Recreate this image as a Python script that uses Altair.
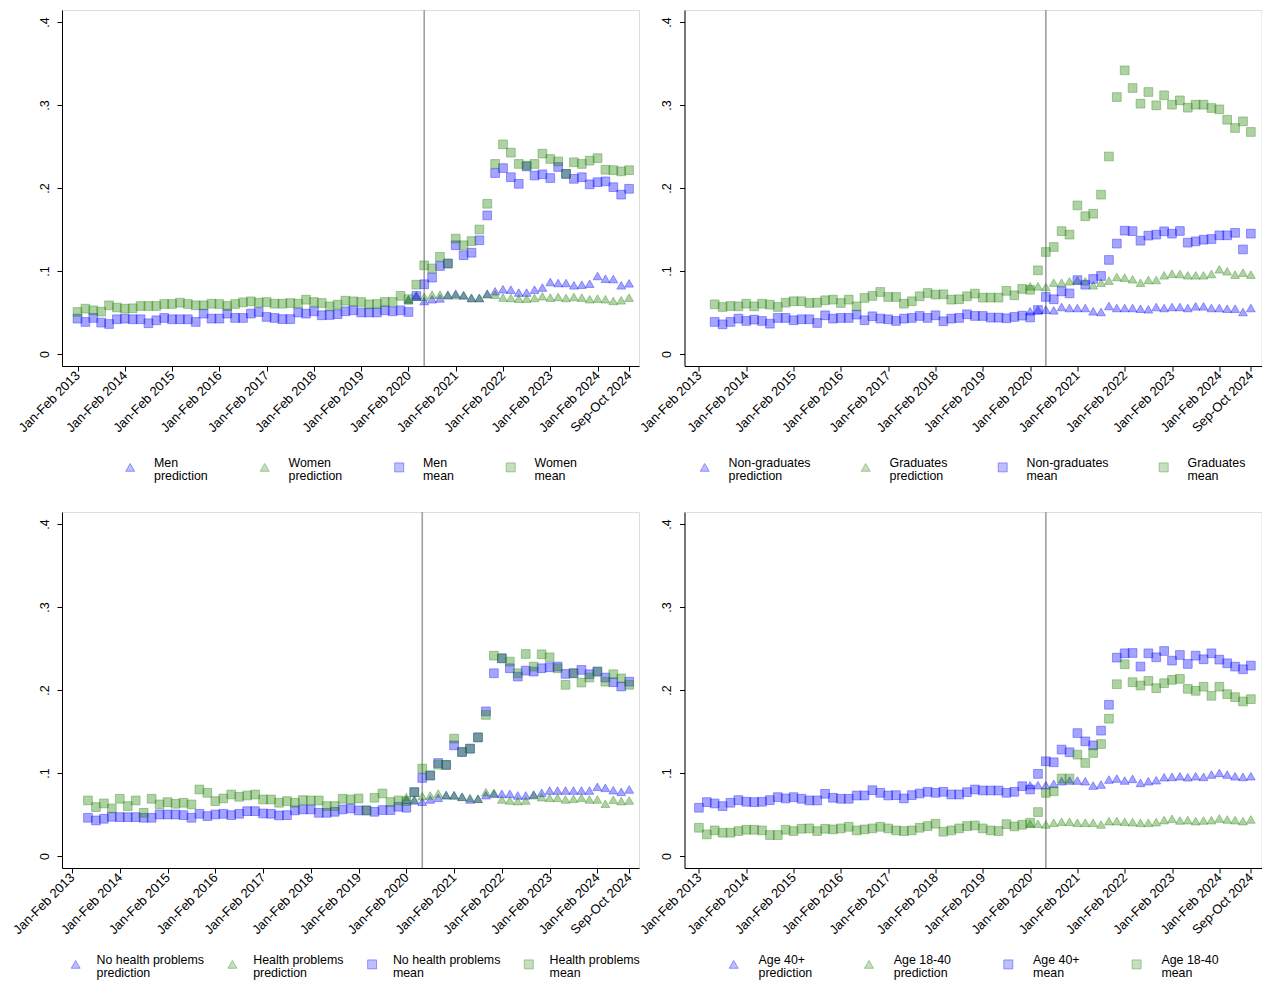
import altair as alt
import pandas as pd

# ---------------- shared axis data ----------------
tick_idx = [0, 6, 12, 18, 24, 30, 36, 42, 48, 54, 60, 66, 70]
tick_labels = ["Jan-Feb 2013", "Jan-Feb 2014", "Jan-Feb 2015", "Jan-Feb 2016",
               "Jan-Feb 2017", "Jan-Feb 2018", "Jan-Feb 2019", "Jan-Feb 2020",
               "Jan-Feb 2021", "Jan-Feb 2022", "Jan-Feb 2023", "Jan-Feb 2024",
               "Sep-Oct 2024"]
y_ticks = [0, 0.1, 0.2, 0.3, 0.4]
y_tick_labels = ["0", ".1", ".2", ".3", ".4"]
policy_idx = 44          # vertical reference line (May-Jun 2020)
pred_start = 42          # predictions start Jan-Feb 2020

# ---------------- top-left: gender ----------------
men_pred = [.066, .0707, .0638, .066, .067, .0707, .0727, .0707, .0675, .0675, .0727, .0755,
            .078, .0775, .074, .074, .0775, .080, .0867, .0855, .0855, .0827, .0835, .0847,
            .094, .0907, .0903, .0827, .0851]
women_pred = [.0646, .069, .069, .0715, .0715, .0715, .0707, .0707, .0675, .0675, .0719, .0715,
              .068, .0675, .0667, .0667, .0675, .0695, .0679, .0687, .0675, .0687, .0679, .066,
              .0667, .066, .0639, .0647, .0679]
men_mean = [.0426, .0386, .0434, .0378, .0361, .0418, .0426, .0418, .0418, .037, .0406, .0434,
            .0418, .0418, .0418, .0386, .0486, .0426, .0426, .0486, .0434, .0434, .0486, .0506,
            .0446, .0434, .042, .042, .050, .0486, .0514, .0466, .047, .048, .0514, .0526,
            .050, .050, .050, .0526, .0514, .0526, .0506, .0699, .084, .092, .106, .109,
            .131, .119, .122, .137, .167, .218, .224, .213, .205, .226, .215, .2165,
            .212, .2253, .217, .211, .213, .2044, .207, .208, .201, .192, .199]
women_mean = [.0506, .0546, .0526, .051, .0586, .056, .0546, .055, .0578, .0578, .0578, .0602,
              .0602, .0618, .0602, .0586, .0586, .0606, .0602, .0578, .0602, .0622, .0634, .0618,
              .0626, .0606, .0606, .0614, .0606, .0654, .0626, .0614, .0574, .0594, .0642, .0634,
              .0626, .0598, .0602, .0627, .0627, .070, .066, .0835, .1068, .103, .117, .109,
              .139, .131, .136, .150, .181, .229, .2526, .2426, .229, .227, .229, .2414,
              .235, .232, .217, .231, .229, .233, .236, .222, .2215, .220, .2215]

# ---------------- top-right: education ----------------
nongrad_pred = [.0514, .0534, .0534, .0526, .0566, .0554, .0554, .0554, .0514, .0506, .0578, .0554,
                .0554, .0554, .0546, .0538, .0566, .0554, .0566, .0566, .0554, .0574, .0574, .0554,
                .0554, .0546, .0546, .0506, .0554]
grad_pred = [.0815, .0815, .0807, .0859, .0859, .0876, .0888, .0876, .0827, .0859, .0884, .0928,
             .092, .090, .0859, .0892, .0892, .0948, .0968, .0964, .0948, .0948, .0948, .0964,
             .102, .0996, .0956, .098, .0956]
nongrad_mean = [.0386, .0357, .0386, .0426, .0398, .0414, .0398, .0365, .0434, .0434, .0406, .0418,
                .0418, .0373, .0466, .0426, .0434, .0434, .0474, .0406, .0454, .0426, .0418, .0398,
                .0426, .0434, .0458, .0434, .0466, .0394, .0426, .0434, .0478, .0458, .0458, .0438,
                .0438, .043, .0446, .0462, .044, .053, .0687, .0659, .0755, .073, .089, .0835,
                .0904, .094, .1133, .133, .1486, .148, .1365, .1426, .1438, .1478, .145, .1482,
                .1341, .1357, .1377, .1385, .143, .143, .146, .126, .145]
grad_mean = [.0598, .0566, .0578, .0574, .0606, .0574, .0606, .0594, .0566, .0618, .0635, .0635,
             .0614, .0618, .0647, .0655, .0614, .0655, .0574, .0675, .0699, .0747, .0687, .0687,
             .0606, .0635, .0695, .0735, .0715, .0719, .0655, .0659, .0695, .0727, .0679, .0679,
             .0679, .0761, .0707, .0784, .0773, .1008, .1229, .1289, .148, .1438, .179, .166,
             .169, .192, .238, .3096, .3418, .3205, .3016, .3157, .2996, .3117, .3004, .3056,
             .2968, .3004, .3004, .2964, .2948, .2823, .2723, .2803, .2675]

# ---------------- bottom-left: health ----------------
nohealth_pred = [.0681, .0669, .0653, .0681, .0701, .0733, .0733, .0713, .0681, .0689, .0733, .0749,
                 .0749, .0749, .0729, .0729, .0741, .0761, .0789, .0789, .0789, .0789, .0789, .0789,
                 .0833, .0821, .0793, .0773, .0801]
health_pred = [.0709, .0681, .0721, .0729, .0753, .0733, .0729, .0713, .0701, .0689, .0769, .0761,
               .0681, .0669, .0661, .0669, .0733, .0709, .0701, .0701, .0681, .0689, .0701, .0681,
               .0681, .0629, .0677, .0661, .0669]
nohealth_mean = [.046, .0428, .0448, .0472, .0468, .0468, .0468, .046, .046, .050, .050, .050,
                 .0492, .046, .0508, .048, .050, .0508, .0492, .0508, .054, .054, .0512, .0508,
                 .0488, .0492, .0549, .0561, .0561, .052, .052, .0532, .0561, .0573, .0549, .0549,
                 .0532, .0553, .0553, .0593, .0581, .0769, .094, .097, .112, .1097, .1333, .1253,
                 .1293, .1429, .1742, .2202, .2382, .2262, .2162, .2234, .2222, .2262, .2274, .2282,
                 .2194, .2202, .2242, .219, .2222, .215, .2094, .2042, .210]
health_mean = [.0669, .0589, .0633, .0573, .0689, .0601, .0669, .052, .0689, .0621, .0649, .0629,
               .0641, .0621, .0801, .0761, .0661, .0693, .0741, .0713, .0729, .0741, .0681, .0681,
               .0641, .0661, .0641, .0673, .0669, .0669, .0601, .0601, .0689, .0681, .0693, .0549,
               .0701, .0753, .0649, .0669, .066, .0769, .1053, .097, .110, .1097, .1414, .1253,
               .1293, .1429, .170, .2414, .2382, .2342, .2202, .2434, .2282, .243, .2394, .2262,
               .2062, .2202, .209, .215, .2222, .210, .219, .214, .2062]

# ---------------- bottom-right: age ----------------
age40_pred = [.0853, .0853, .0853, .0869, .0901, .0909, .0909, .0901, .0849, .0861, .0921, .0933,
              .0909, .0929, .0881, .0901, .0913, .0949, .0953, .0961, .0949, .0961, .0953, .0981,
              .1001, .0981, .0961, .0953, .0961]
age18_pred = [.0388, .0388, .038, .040, .0412, .0412, .040, .040, .040, .038, .042, .042,
              .0412, .0408, .040, .040, .0408, .0432, .0448, .0428, .0432, .042, .0428, .0432,
              .0452, .044, .0432, .042, .044]
age40_mean = [.0581, .0649, .0633, .0601, .0641, .0673, .0653, .0649, .0653, .0673, .0709, .0693,
              .0709, .0689, .0669, .0669, .0749, .0701, .0689, .0689, .0729, .0729, .0793, .0761,
              .0729, .0733, .0693, .0733, .0753, .0773, .0761, .0773, .0741, .0741, .0769, .0801,
              .0789, .0789, .0789, .0761, .0773, .0841, .0801, .0989, .1141, .1129, .1282, .125,
              .1481, .1381, .1333, .151, .1822, .239, .2442, .2446, .2282, .2442, .2394, .247,
              .2354, .2422, .2314, .2414, .237, .2442, .2366, .2322, .2282, .225, .2294]
age18_mean = [.034, .026, .0308, .028, .028, .030, .0316, .0316, .0308, .0252, .0252, .0316,
              .030, .0328, .0332, .030, .0328, .032, .0332, .0352, .0308, .032, .0332, .0352,
              .0332, .0308, .030, .0308, .034, .036, .0388, .0292, .0308, .0332, .036, .0368,
              .0332, .0308, .030, .0384, .0356, .0376, .040, .0529, .076, .078, .0933, .0933,
              .1221, .1121, .1241, .1349, .1654, .207, .231, .2094, .2054, .211, .2022, .2082,
              .2122, .2134, .2014, .199, .204, .193, .204, .195, .1914, .1862, .189]

# ---------------- styling ----------------
FONT = "Liberation Sans"
BLUE_FILL, BLUE_STROKE = "rgba(0,0,255,0.5)", "rgba(0,0,255,0.55)"
GREEN_FILL, GREEN_STROKE = "rgba(30,128,0,0.5)", "rgba(30,128,0,0.55)"
W, H = 577, 356

label_expr = " : ".join(
    f"datum.value == {v} ? '{t}'" for v, t in zip(tick_idx, tick_labels)) + " : ''"
y_label_expr = " : ".join(
    f"datum.value == {v} ? '{t}'" for v, t in zip(y_ticks, y_tick_labels)) + " : ''"


def make_df(series):
    rows = []
    for name, start, vals in series:
        for k, v in enumerate(vals):
            rows.append({"idx": start + k, "value": v, "series": name})
    return pd.DataFrame(rows)


def panel(series, x_domain, legend_x, legend_y, col_pad, label_offset):
    df = make_df(series)
    names = [s[0] for s in series]
    fills = [BLUE_FILL, GREEN_FILL, BLUE_FILL, GREEN_FILL]
    strokes = [BLUE_STROKE, GREEN_STROKE, BLUE_STROKE, GREEN_STROKE]
    shapes = ["triangle-up", "triangle-up", "square", "square"]
    leg = alt.Legend(orient="none", legendX=legend_x, legendY=legend_y,
                     direction="horizontal", columns=4, columnPadding=col_pad,
                     title=None, padding=0, labelExpr="split(datum.label, '|')",
                     labelFont=FONT, labelFontSize=12.4, labelColor="#000",
                     labelOffset=label_offset, symbolSize=80, symbolStrokeWidth=1,
                     labelLimit=300, labelBaseline="alphabetic")
    xs = alt.Scale(domain=x_domain, nice=False, zero=False)
    ys = alt.Scale(domain=[-0.0145, 0.4145], nice=False, zero=False)
    x_axis = alt.Axis(values=tick_idx, labelExpr=label_expr, labelAngle=315,
                      labelAlign="right", labelBaseline="middle", labelPadding=2,
                      title=None, grid=False, tickSize=5, labelFont=FONT,
                      labelFontSize=13, labelColor="#000", tickColor="#000",
                      domainColor="#000", labelOverlap=False, labelBound=False,
                      labelFlush=False)
    y_axis = alt.Axis(values=y_ticks, labelExpr=y_label_expr, labelAngle=270,
                      labelAlign="center", labelBaseline="bottom", labelPadding=6,
                      title=None, grid=False, tickSize=5, labelFont=FONT,
                      labelFontSize=12.5, labelColor="#000", tickColor="#000",
                      domainColor="#000", labelOverlap=False, labelFlush=False)
    rule = alt.Chart(pd.DataFrame({"idx": [policy_idx]})).mark_rule(
        color="#a0a0a0", strokeWidth=1.6).encode(
        x=alt.X("idx:Q", scale=xs, axis=x_axis))
    pts = alt.Chart(df).mark_point(filled=True, strokeWidth=1, size=76).encode(
        x=alt.X("idx:Q", scale=xs, axis=x_axis),
        y=alt.Y("value:Q", scale=ys, axis=y_axis),
        fill=alt.Fill("series:N", scale=alt.Scale(domain=names, range=fills), legend=leg),
        stroke=alt.Stroke("series:N", scale=alt.Scale(domain=names, range=strokes), legend=leg),
        shape=alt.Shape("series:N", scale=alt.Scale(domain=names, range=shapes), legend=leg),
    )
    return alt.layer(rule, pts).properties(width=W, height=H)


tl = panel([("Men|prediction", pred_start, men_pred),
            ("Women|prediction", pred_start, women_pred),
            ("Men|mean", 0, men_mean),
            ("Women|mean", 0, women_mean)],
           [-1.97, 71.26], 62, 451, 49.5, 17.6)
tr = panel([("Non-graduates|prediction", pred_start, nongrad_pred),
            ("Graduates|prediction", pred_start, grad_pred),
            ("Non-graduates|mean", 2, nongrad_mean),
            ("Graduates|mean", 2, grad_mean)],
           [-1.83, 71.35], 14, 451, 48, 17.6)
bl = panel([("No health problems|prediction", pred_start, nohealth_pred),
            ("Health problems|prediction", pred_start, health_pred),
            ("No health problems|mean", 2, nohealth_mean),
            ("Health problems|mean", 2, health_mean)],
           [-1.26, 71.23], 7.5, 446, 20.7, 14.6)
br = panel([("Age 40+|prediction", pred_start, age40_pred),
            ("Age 18-40|prediction", pred_start, age18_pred),
            ("Age 40+|mean", 0, age40_mean),
            ("Age 18-40|mean", 0, age18_mean)],
           [-1.83, 71.35], 43, 446, 49.3, 18.6)

chart = alt.concat(tl, tr, bl, br, columns=2, bounds="flush",
                   spacing={"row": 146, "column": 45.5}).resolve_scale(
    x="independent", y="independent", fill="independent", stroke="independent",
    shape="independent"
).properties(
    padding={"left": 2, "top": 0, "right": 0, "bottom": 0}, background="white"
).configure_view(stroke="#000", strokeWidth=1.2).configure_axis(
    domainWidth=1.2, tickWidth=1.2
).configure(style={"guide-label": {"lineHeight": 13}})

chart.save("out.html", embed_options={"renderer": "svg", "actions": False})
